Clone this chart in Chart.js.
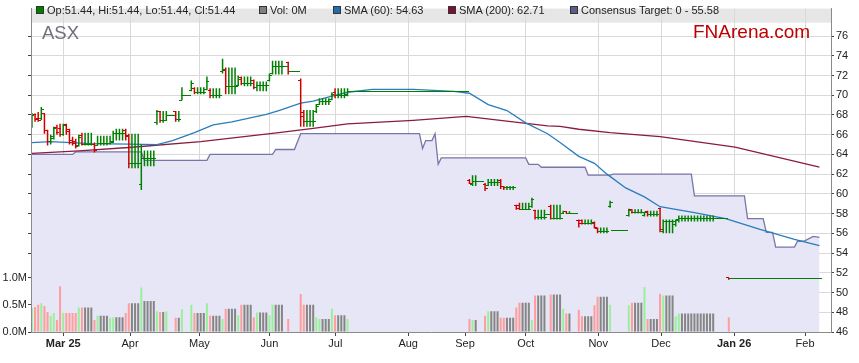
<!DOCTYPE html>
<html lang="en">

<head>
    <meta charset="UTF-8">
    <title>ASX | FNArena</title>
    <script src="https://cdn.jsdelivr.net/npm/chart.js"></script>
    <style>
        body { margin: 0; background: #fff; }
        .janela { position: relative; width: 859px; height: 363px; font-family: 'Liberation Sans', Arial, sans-serif; }
        .legenda { position: absolute; top: 3px; height: 14px; line-height: 14px; font-size: 11px; color: #222; white-space: nowrap; }
        .legenda i { display: inline-block; width: 6px; height: 6px; border: 1px solid #333; margin-right: 3px; vertical-align: 0px; }
        #ticker { position: absolute; left: 42px; top: 24px; font-size: 18.5px; line-height: 1; color: #6e7079; }
        #marca { position: absolute; left: 693px; top: 22px; font-size: 19px; line-height: 1; color: #c00000; }
    </style>
</head>

<body>
    <div class="janela">
        <canvas id="grafico" width="859" height="363"></canvas>
        <div class="legenda" style="left:36px"><i style="background:#008000"></i>Op:51.44, Hi:51.44, Lo:51.44, Cl:51.44</div>
        <div class="legenda" style="left:259px"><i style="background:#808080"></i>Vol: 0M</div>
        <div class="legenda" style="left:333px"><i style="background:#1f6fb0"></i>SMA (60): 54.63</div>
        <div class="legenda" style="left:448px"><i style="background:#7a1131"></i>SMA (200): 62.71</div>
        <div class="legenda" style="left:570px"><i style="background:#5c5c8a"></i>Consensus Target: 0 - 55.58</div>
        <div id="ticker">ASX</div>
        <div id="marca">FNArena.com</div>
    </div>

<script>
    // one value per trading day (day 0 = first bar on the left)
    const opens = [
        67.3, 68.0, 67.6, 67.6, 68.1, 66.4, 65.3, 65.6, 66.7, 66.6,
        66.0, 67.0, 66.5, 65.4, 65.3, 64.9, 65.9, 65.0, 65.0, 65.0,
        65.0, 64.9, 65.1, 65.1, 65.1, 65.1, 65.2, 66.1, 66.1, 66.1,
        66.4, 65.9, 63.1, 63.1, 63.1, 61.0, 63.6, 63.6, 63.6, 63.6,
        67.2, 68.4, 67.4, 67.4, 67.9, 67.9, 68.3, 67.5, 69.5, 70.0,
        70.0, 70.5, 70.7, 70.3, 70.3, 70.3, 70.6, 70.5, 70.0, 70.0,
        70.0, 72.4, 72.5, 70.9, 70.9, 70.9, 71.0, 71.8, 71.2, 71.2,
        71.2, 71.5, 70.8, 71.0, 71.0, 71.0, 71.5, 72.2, 72.9, 72.9,
        72.9, 72.9, 73.3, 72.4, 72.4, 72.4, 71.5, 68.2, 67.3, 67.3,
        67.3, 68.3, 69.1, 69.4, 69.4, 69.4, 69.6, 70.3, 70.0, 70.0,
        70.0, 70.1, 70.4, 70.4, 70.4, 70.4, 70.4, 70.4, 70.4, 70.4,
        70.4, 70.4, 70.4, 70.4, 70.4, 70.4, 70.4, 70.4, 70.4, 70.4,
        70.4, 70.4, 70.4, 70.4, 70.4, 70.4, 70.4, 70.4, 70.4, 70.4,
        70.4, 70.4, 70.4, 70.4, 70.4, 70.4, 70.4, 70.4, 70.4, 70.4,
        61.4, 61.0, 61.25, 61.25, 61.25, 61.0, 60.9, 61.2, 61.2, 61.2,
        61.4, 60.7, 60.6, 60.6, 60.6, 58.8, 58.8, 58.45, 58.45, 58.45,
        58.7, 58.3, 57.6, 57.6, 57.6, 57.9, 58.7, 57.5, 57.5, 57.5,
        58.0, 58.2, 58.05, 58.05, 58.05, 57.3, 57.3, 56.95, 56.95, 56.95,
        57.1, 56.5, 56.2, 56.2, 56.2, 58.7, 56.3, 56.3, 56.3, 56.3,
        56.3, 57.8, 58.4, 58.1, 58.1, 58.1, 57.8, 58.2, 57.9, 57.9,
        57.9, 58.5, 56.2, 57.2, 57.2, 57.2, 56.9, 57.4, 57.5, 57.5,
        57.5, 57.5, 57.5, 57.5, 57.5, 57.5, 57.5, 57.5, 57.5, 57.5,
        57.5, 57.5, 57.5, 51.5, 51.44, 51.44, 51.44, 51.44, 51.44, 51.44,
        51.44, 51.44, 51.44, 51.44, 51.44, 51.44, 51.44, 51.44, 51.44, 51.44,
        51.44, 51.44, 51.44, 51.44, 51.44, 51.44, 51.44, 51.44, 51.44, 51.44,
        51.44, 51.44, 51.44
    ];
    const highs = [
        68.2, 68.15, 68.3, 68.8, 68.1, 66.5, 66.0, 66.8, 67.0, 67.1,
        67.1, 67.1, 66.6, 65.8, 65.6, 66.0, 66.2, 66.2, 66.2, 66.2,
        65.2, 65.9, 65.9, 65.9, 65.9, 65.9, 66.4, 66.6, 66.6, 66.6,
        66.6, 66.1, 66.1, 66.1, 66.1, 65.0, 64.4, 64.4, 64.4, 64.4,
        68.5, 68.4, 68.4, 68.4, 67.9, 67.9, 68.4, 68.4, 70.8, 70.0,
        70.0, 71.5, 70.8, 70.8, 70.8, 70.8, 71.9, 70.7, 70.7, 70.7,
        70.7, 73.7, 72.8, 72.8, 72.8, 72.8, 72.0, 71.9, 71.9, 71.9,
        71.9, 71.6, 71.4, 71.4, 71.4, 71.4, 72.2, 73.5, 73.5, 73.5,
        73.5, 72.9, 73.4, 72.4, 72.4, 72.4, 71.7, 68.5, 68.5, 68.5,
        68.5, 69.1, 69.7, 69.7, 69.7, 69.7, 70.3, 70.7, 70.7, 70.7,
        70.7, 70.7, 70.4, 70.4, 70.4, 70.4, 70.4, 70.4, 70.4, 70.4,
        70.4, 70.4, 70.4, 70.4, 70.4, 70.4, 70.4, 70.4, 70.4, 70.4,
        70.4, 70.4, 70.4, 70.4, 70.4, 70.4, 70.4, 70.4, 70.4, 70.4,
        70.4, 70.4, 70.4, 70.4, 70.4, 70.4, 70.4, 70.4, 70.4, 70.4,
        61.5, 61.9, 61.9, 61.25, 61.25, 61.1, 61.5, 61.5, 61.5, 61.5,
        61.5, 60.8, 60.8, 60.8, 60.8, 58.9, 59.1, 59.1, 59.1, 59.1,
        59.6, 58.4, 58.4, 58.4, 58.4, 57.9, 58.9, 58.9, 58.9, 58.9,
        58.3, 58.25, 58.25, 58.05, 58.05, 57.4, 57.4, 57.4, 57.4, 57.4,
        57.2, 56.6, 56.6, 56.6, 56.6, 59.3, 56.3, 56.3, 56.3, 56.3,
        56.3, 58.5, 58.45, 58.45, 58.45, 58.45, 58.2, 58.3, 58.3, 58.3,
        58.3, 58.6, 57.4, 57.4, 57.4, 57.4, 57.4, 57.8, 57.8, 57.8,
        57.8, 57.8, 57.8, 57.8, 57.8, 57.8, 57.8, 57.8, 57.8, 57.5,
        57.5, 57.5, 57.5, 51.5, 51.44, 51.44, 51.44, 51.44, 51.44, 51.44,
        51.44, 51.44, 51.44, 51.44, 51.44, 51.44, 51.44, 51.44, 51.44, 51.44,
        51.44, 51.44, 51.44, 51.44, 51.44, 51.44, 51.44, 51.44, 51.44, 51.44,
        51.44, 51.44, 51.44
    ];
    const lows = [
        66.7, 67.3, 67.3, 67.5, 66.1, 64.9, 65.0, 65.5, 66.0, 65.8,
        65.9, 66.0, 65.0, 64.9, 64.6, 64.8, 64.9, 64.9, 64.9, 64.9,
        64.2, 64.9, 64.9, 64.9, 64.9, 65.0, 65.2, 65.4, 65.4, 65.4,
        65.4, 62.6, 62.6, 62.6, 62.6, 60.4, 62.8, 62.8, 62.8, 62.8,
        67.0, 67.2, 67.2, 67.4, 67.9, 67.9, 67.3, 67.3, 69.5, 70.0,
        70.0, 70.4, 70.1, 70.1, 70.1, 70.1, 70.5, 69.7, 69.7, 69.7,
        69.7, 72.2, 70.1, 70.1, 70.1, 70.1, 70.9, 71.0, 70.9, 70.9,
        70.9, 70.6, 70.4, 70.4, 70.4, 70.4, 71.4, 72.1, 72.1, 72.1,
        72.1, 72.9, 72.1, 72.4, 72.4, 72.4, 66.8, 66.8, 66.8, 66.8,
        66.8, 68.2, 69.0, 69.0, 69.0, 69.0, 69.5, 69.7, 69.7, 69.7,
        69.7, 69.9, 70.4, 70.4, 70.4, 70.4, 70.4, 70.4, 70.4, 70.4,
        70.4, 70.4, 70.4, 70.4, 70.4, 70.4, 70.4, 70.4, 70.4, 70.4,
        70.4, 70.4, 70.4, 70.4, 70.4, 70.4, 70.4, 70.4, 70.4, 70.4,
        70.4, 70.4, 70.4, 70.4, 70.4, 70.4, 70.4, 70.4, 70.4, 70.4,
        61.0, 60.8, 60.8, 61.25, 61.25, 60.3, 60.8, 60.8, 60.8, 60.8,
        60.5, 60.4, 60.4, 60.4, 60.4, 58.4, 58.4, 58.4, 58.4, 58.4,
        58.6, 57.4, 57.4, 57.4, 57.4, 57.9, 57.4, 57.4, 57.4, 57.4,
        58.0, 58.0, 58.0, 58.05, 58.05, 56.6, 56.9, 56.9, 56.9, 56.9,
        56.5, 56.0, 56.0, 56.0, 56.0, 58.6, 56.3, 56.3, 56.3, 56.3,
        56.3, 57.7, 58.0, 58.0, 58.0, 58.0, 57.7, 57.7, 57.7, 57.7,
        57.7, 56.1, 56.0, 56.0, 56.0, 56.0, 56.7, 57.1, 57.2, 57.2,
        57.2, 57.2, 57.2, 57.2, 57.2, 57.2, 57.2, 57.2, 57.2, 57.5,
        57.5, 57.5, 57.5, 51.3, 51.44, 51.44, 51.44, 51.44, 51.44, 51.44,
        51.44, 51.44, 51.44, 51.44, 51.44, 51.44, 51.44, 51.44, 51.44, 51.44,
        51.44, 51.44, 51.44, 51.44, 51.44, 51.44, 51.44, 51.44, 51.44, 51.44,
        51.44, 51.44, 51.44
    ];
    const closes = [
        67.9, 67.5, 67.4, 68.6, 66.4, 65.3, 65.8, 66.6, 66.2, 66.0,
        66.9, 66.3, 65.2, 65.1, 64.8, 65.7, 65.0, 65.0, 65.0, 65.0,
        64.4, 65.1, 65.1, 65.1, 65.1, 65.3, 66.1, 66.1, 66.1, 66.1,
        65.8, 63.1, 63.1, 63.1, 63.1, 63.6, 63.6, 63.6, 63.6, 63.6,
        68.3, 67.4, 67.4, 67.9, 67.9, 67.9, 67.5, 67.5, 70.0, 70.0,
        70.0, 71.2, 70.3, 70.3, 70.3, 70.3, 71.4, 70.0, 70.0, 70.0,
        70.0, 72.6, 70.9, 70.9, 70.9, 70.9, 71.6, 71.2, 71.2, 71.2,
        71.2, 70.8, 71.0, 71.0, 71.0, 71.0, 72.0, 72.9, 72.9, 72.9,
        72.9, 72.9, 72.4, 72.4, 72.4, 72.4, 67.8, 67.3, 67.3, 67.3,
        67.3, 68.9, 69.4, 69.4, 69.4, 69.4, 70.1, 70.0, 70.0, 70.0,
        70.0, 70.4, 70.4, 70.4, 70.4, 70.4, 70.4, 70.4, 70.4, 70.4,
        70.4, 70.4, 70.4, 70.4, 70.4, 70.4, 70.4, 70.4, 70.4, 70.4,
        70.4, 70.4, 70.4, 70.4, 70.4, 70.4, 70.4, 70.4, 70.4, 70.4,
        70.4, 70.4, 70.4, 70.4, 70.4, 70.4, 70.4, 70.4, 70.4, 70.4,
        61.1, 61.25, 61.25, 61.25, 61.25, 60.5, 61.2, 61.2, 61.2, 61.2,
        60.7, 60.6, 60.6, 60.6, 60.6, 58.5, 58.45, 58.45, 58.45, 58.45,
        59.4, 57.6, 57.6, 57.6, 57.6, 57.9, 57.5, 57.5, 57.5, 57.5,
        58.2, 58.05, 58.05, 58.05, 58.05, 57.0, 56.95, 56.95, 56.95, 56.95,
        56.6, 56.2, 56.2, 56.2, 56.2, 59.1, 56.3, 56.3, 56.3, 56.3,
        56.3, 58.3, 58.1, 58.1, 58.1, 58.1, 58.15, 57.9, 57.9, 57.9,
        57.9, 56.4, 57.2, 57.2, 57.2, 57.2, 57.3, 57.5, 57.5, 57.5,
        57.5, 57.5, 57.5, 57.5, 57.5, 57.5, 57.5, 57.5, 57.5, 57.5,
        57.5, 57.5, 57.5, 51.44, 51.44, 51.44, 51.44, 51.44, 51.44, 51.44,
        51.44, 51.44, 51.44, 51.44, 51.44, 51.44, 51.44, 51.44, 51.44, 51.44,
        51.44, 51.44, 51.44, 51.44, 51.44, 51.44, 51.44, 51.44, 51.44, 51.44,
        51.44, 51.44, 51.44
    ];
    // millions of shares
    const volumes = [
        0.44, 0.46, 0.50, 0.53, 0.48, 0.37, 0.30, 0.35, 0.22, 0.84,
        0.35, 0.35, 0.35, 0.35, 0.35, 0.45, 0.45, 0.45, 0.45, 0.45,
        0.22, 0.30, 0.30, 0.30, 0.30, 0.26, 0.27, 0.27, 0.27, 0.27,
        0.35, 0.53, 0.53, 0.53, 0.53, 0.82, 0.57, 0.57, 0.57, 0.57,
        0.38, 0.37, 0.37, 0.38, 0, 0, 0.26, 0.26, 0.42, 0,
        0, 0.50, 0.35, 0.35, 0.35, 0.35, 0.53, 0.30, 0.30, 0.30,
        0.30, 0.24, 0.43, 0.43, 0.43, 0.43, 0.31, 0.50, 0.50, 0.50,
        0.50, 0.27, 0.36, 0.36, 0.36, 0.36, 0.31, 0.50, 0.50, 0.50,
        0.50, 0, 0.24, 0, 0, 0, 0.70, 0.50, 0.50, 0.50,
        0.50, 0.27, 0.24, 0.24, 0.24, 0.24, 0.43, 0.31, 0.31, 0.31,
        0.31, 0.24, 0, 0, 0, 0, 0, 0, 0, 0,
        0, 0, 0, 0, 0, 0, 0, 0, 0, 0,
        0, 0, 0, 0, 0, 0, 0, 0, 0, 0,
        0, 0, 0, 0, 0, 0, 0, 0, 0, 0,
        0.24, 0.22, 0.22, 0, 0, 0.30, 0.38, 0.38, 0.38, 0.38,
        0.26, 0.26, 0.26, 0.26, 0.26, 0.45, 0.54, 0.54, 0.54, 0.54,
        0.22, 0.67, 0.67, 0.67, 0.67, 0, 0.69, 0.69, 0.69, 0.69,
        0.43, 0.34, 0.34, 0, 0, 0.41, 0.29, 0.29, 0.29, 0.29,
        0.49, 0.65, 0.65, 0.65, 0.65, 0.50, 0, 0, 0, 0,
        0, 0.49, 0.54, 0.54, 0.54, 0.54, 0.83, 0.24, 0.24, 0.24,
        0.24, 0.70, 0.67, 0.67, 0.67, 0.67, 0.29, 0.34, 0.34, 0.34,
        0.34, 0.34, 0.34, 0.34, 0.34, 0.34, 0.34, 0.34, 0.34, 0,
        0, 0, 0, 0.27, 0, 0, 0, 0, 0, 0,
        0, 0, 0, 0, 0, 0, 0, 0, 0, 0,
        0, 0, 0, 0, 0, 0, 0, 0, 0, 0,
        0, 0, 0
    ];

    const sma60Days = [0, 6, 19, 31, 40, 45, 52, 58, 64, 75, 79, 86, 90, 96, 101, 109, 122, 135, 140, 146, 152, 158, 165, 169, 175, 180, 184, 190, 196, 201, 212, 222, 233, 244, 252];
    const sma60 = [65.2, 65.3, 65.1, 65.05, 65.0, 65.4, 66.2, 67.0, 67.3, 68.05, 68.45, 69.2, 69.4, 69.9, 70.3, 70.6, 70.6, 70.4, 70.2, 69.05, 68.45, 67.2, 66.1, 65.2, 63.8, 63.1, 62.0, 60.6, 59.7, 58.7, 58.1, 57.5, 56.4, 55.4, 54.75];

    const sma200Days = [0, 15, 31, 54, 79, 90, 101, 122, 139, 154, 165, 169, 175, 185, 201, 225, 252];
    const sma200 = [64.1, 64.35, 64.7, 65.3, 66.2, 66.65, 67.1, 67.45, 67.85, 67.3, 66.9, 66.85, 66.55, 66.2, 65.8, 64.75, 62.7];

    const targetDays = [0, 13, 14, 35, 36, 56, 57, 77, 78, 84, 86, 124, 125, 126, 128, 129, 130, 131, 158, 159, 162, 163, 177, 178, 185, 186, 211, 212, 228, 229, 234, 235, 237, 238, 244, 245, 247, 250, 252];
    const targets = [64.0, 64.0, 64.25, 64.25, 63.4, 63.4, 64.0, 64.0, 64.5, 64.5, 66.1, 66.1, 64.6, 65.4, 65.4, 66.1, 63.0, 63.65, 63.65, 63.0, 63.0, 62.7, 62.7, 61.9, 61.9, 62.0, 62.0, 59.8, 59.8, 57.5, 57.5, 56.1, 56.1, 54.6, 54.6, 55.2, 55.2, 55.7, 55.6];

    // month starts on the trading-day axis
    const monthDays = [10.0, 31.4, 53.6, 76.0, 97.1, 120.4, 138.6, 158.0, 181.2, 201.3, 224.7, 247.4];
    const monthLabels = ['Mar 25', 'Apr', 'May', 'Jun', 'Jul', 'Aug', 'Sep', 'Oct', 'Nov', 'Dec', 'Jan 26', 'Feb'];
    const priceTicks = [46, 48, 50, 52, 54, 56, 58, 60, 62, 64, 66, 68, 70, 72, 74, 76];
    const volumeTicks = [0, 0.5, 1.0];

    const PRICE_MIN = 46, PRICE_MAX = 78.78, VOL_MAX = 5.95;
    const DAY_MIN = -0.3, DAY_MAX = 255.7;

    const days = opens.map((_, i) => i);

    const cores = {
        up: '#008000', down: '#d00000',
        volUp: '#9af09a', volDown: '#ff9c9c', volFlat: '#858585'
    };

    function corPreco(i) {
        return closes[i] < opens[i] ? cores.down : cores.up;
    }
    function corVolume(i) {
        if (i === 0 || closes[i] > closes[i - 1]) return cores.volUp;
        if (closes[i] < closes[i - 1]) return cores.volDown;
        return cores.volFlat;
    }

    // little open (left) / close (right) tick images
    function tracinho(cor, lado) {
        const c = document.createElement('canvas');
        c.width = 5;
        c.height = 1;
        const g = c.getContext('2d');
        g.fillStyle = cor;
        g.fillRect(lado === 'open' ? 0 : 2, 0, 3, 1);
        return c;
    }
    const ticks = {};
    [cores.up, cores.down].forEach(cor => {
        ticks[cor] = { open: tracinho(cor, 'open'), close: tracinho(cor, 'close') };
    });

    const barraLegenda = {
        id: 'barraLegenda',
        beforeDraw(chart) {
            const { ctx, chartArea } = chart;
            ctx.save();
            ctx.fillStyle = '#e6e6e6';
            ctx.fillRect(chartArea.left, chartArea.top, chartArea.right - chartArea.left, 14);
            ctx.restore();
        },
        beforeDatasetsDraw(chart) {
            chart.ctx.imageSmoothingEnabled = false;
        }
    };

    Chart.defaults.font.family = "'Liberation Sans', Arial, sans-serif";
    Chart.defaults.font.size = 11;
    Chart.defaults.color = '#222';

    const ctx = document.getElementById('grafico').getContext('2d');

    new Chart(ctx, {
        type: 'bar',
        data: {
            datasets: [
                {
                    type: 'scatter',
                    label: 'Open',
                    data: days.map((d, i) => ({ x: d, y: opens[i] })),
                    pointStyle: c => ticks[corPreco(c.dataIndex)].open,
                    pointRadius: 2,
                    yAxisID: 'y',
                    order: 1
                },
                {
                    type: 'scatter',
                    label: 'Close',
                    data: days.map((d, i) => ({ x: d, y: closes[i] })),
                    pointStyle: c => ticks[corPreco(c.dataIndex)].close,
                    pointRadius: 2,
                    yAxisID: 'y',
                    order: 1
                },
                {
                    type: 'bar',
                    label: 'Range',
                    data: days.map((d, i) => ({ x: d, y: [lows[i], highs[i]] })),
                    backgroundColor: c => corPreco(c.dataIndex),
                    barThickness: 1.5,
                    inflateAmount: 0,
                    grouped: false,
                    yAxisID: 'y',
                    order: 2
                },
                {
                    type: 'line',
                    label: 'SMA (60)',
                    data: sma60Days.map((d, i) => ({ x: d, y: sma60[i] })),
                    borderColor: '#2a7dbd',
                    borderWidth: 1.3,
                    pointRadius: 0,
                    yAxisID: 'y',
                    order: 4
                },
                {
                    type: 'line',
                    label: 'SMA (200)',
                    data: sma200Days.map((d, i) => ({ x: d, y: sma200[i] })),
                    borderColor: '#8a1c3e',
                    borderWidth: 1.3,
                    pointRadius: 0,
                    yAxisID: 'y',
                    order: 5
                },
                {
                    type: 'bar',
                    label: 'Vol',
                    data: days.map((d, i) => ({ x: d, y: volumes[i] > 0 ? volumes[i] : null })),
                    backgroundColor: c => corVolume(c.dataIndex),
                    barThickness: 2,
                    inflateAmount: 0,
                    grouped: false,
                    yAxisID: 'yv',
                    order: 6
                },
                {
                    type: 'line',
                    label: 'Consensus Target',
                    data: targetDays.map((d, i) => ({ x: d, y: targets[i] })),
                    borderColor: '#7876a8',
                    borderWidth: 1.3,
                    backgroundColor: '#e6e6f6',
                    fill: 'start',
                    pointRadius: 0,
                    yAxisID: 'y',
                    order: 10
                }
            ]
        },
        options: {
            responsive: false,
            animation: false,
            events: [],
            layout: { padding: { top: 2, left: 0, right: 0, bottom: 0 } },
            plugins: {
                legend: { display: false },
                tooltip: { enabled: false }
            },
            scales: {
                x: {
                    type: 'linear',
                    min: DAY_MIN,
                    max: DAY_MAX,
                    offset: false,
                    afterFit: s => { s.height = 31; },
                    afterBuildTicks: s => { s.ticks = monthDays.map(v => ({ value: v })); },
                    grid: { color: '#d9d9d9', offset: false, tickLength: 4, tickColor: '#444' },
                    border: { color: '#8a8a8a', z: 1 },
                    ticks: {
                        autoSkip: false,
                        maxRotation: 0,
                        padding: 1,
                        callback: (v, i) => monthLabels[i],
                        font: c => ({ size: 11, weight: /\d/.test(monthLabels[c.index] || '') ? 'bold' : 'normal' })
                    }
                },
                yv: {
                    position: 'left',
                    min: 0,
                    max: VOL_MAX,
                    afterFit: s => { s.width = 31; },
                    afterBuildTicks: s => {
                        const extra = priceTicks.filter(p => p >= 54)
                            .map(p => (p - PRICE_MIN) / (PRICE_MAX - PRICE_MIN) * VOL_MAX);
                        s.ticks = volumeTicks.concat(extra).map(v => ({ value: v }));
                    },
                    grid: { drawOnChartArea: false, tickLength: 3, tickColor: '#444' },
                    border: { color: '#8a8a8a', z: 1 },
                    ticks: {
                        autoSkip: false,
                        padding: 1,
                        callback: v => volumeTicks.includes(v) ? v.toFixed(1) + 'M' : ''
                    }
                },
                y: {
                    position: 'right',
                    min: PRICE_MIN,
                    max: PRICE_MAX,
                    afterFit: s => { s.width = 28; },
                    afterBuildTicks: s => { s.ticks = priceTicks.map(v => ({ value: v })); },
                    grid: { color: '#d9d9d9', tickLength: 3, tickColor: '#444' },
                    border: { color: '#8a8a8a', z: 1 },
                    ticks: { autoSkip: false, padding: 2 }
                }
            }
        },
        plugins: [barraLegenda]
    });
</script>
</body>

</html>
